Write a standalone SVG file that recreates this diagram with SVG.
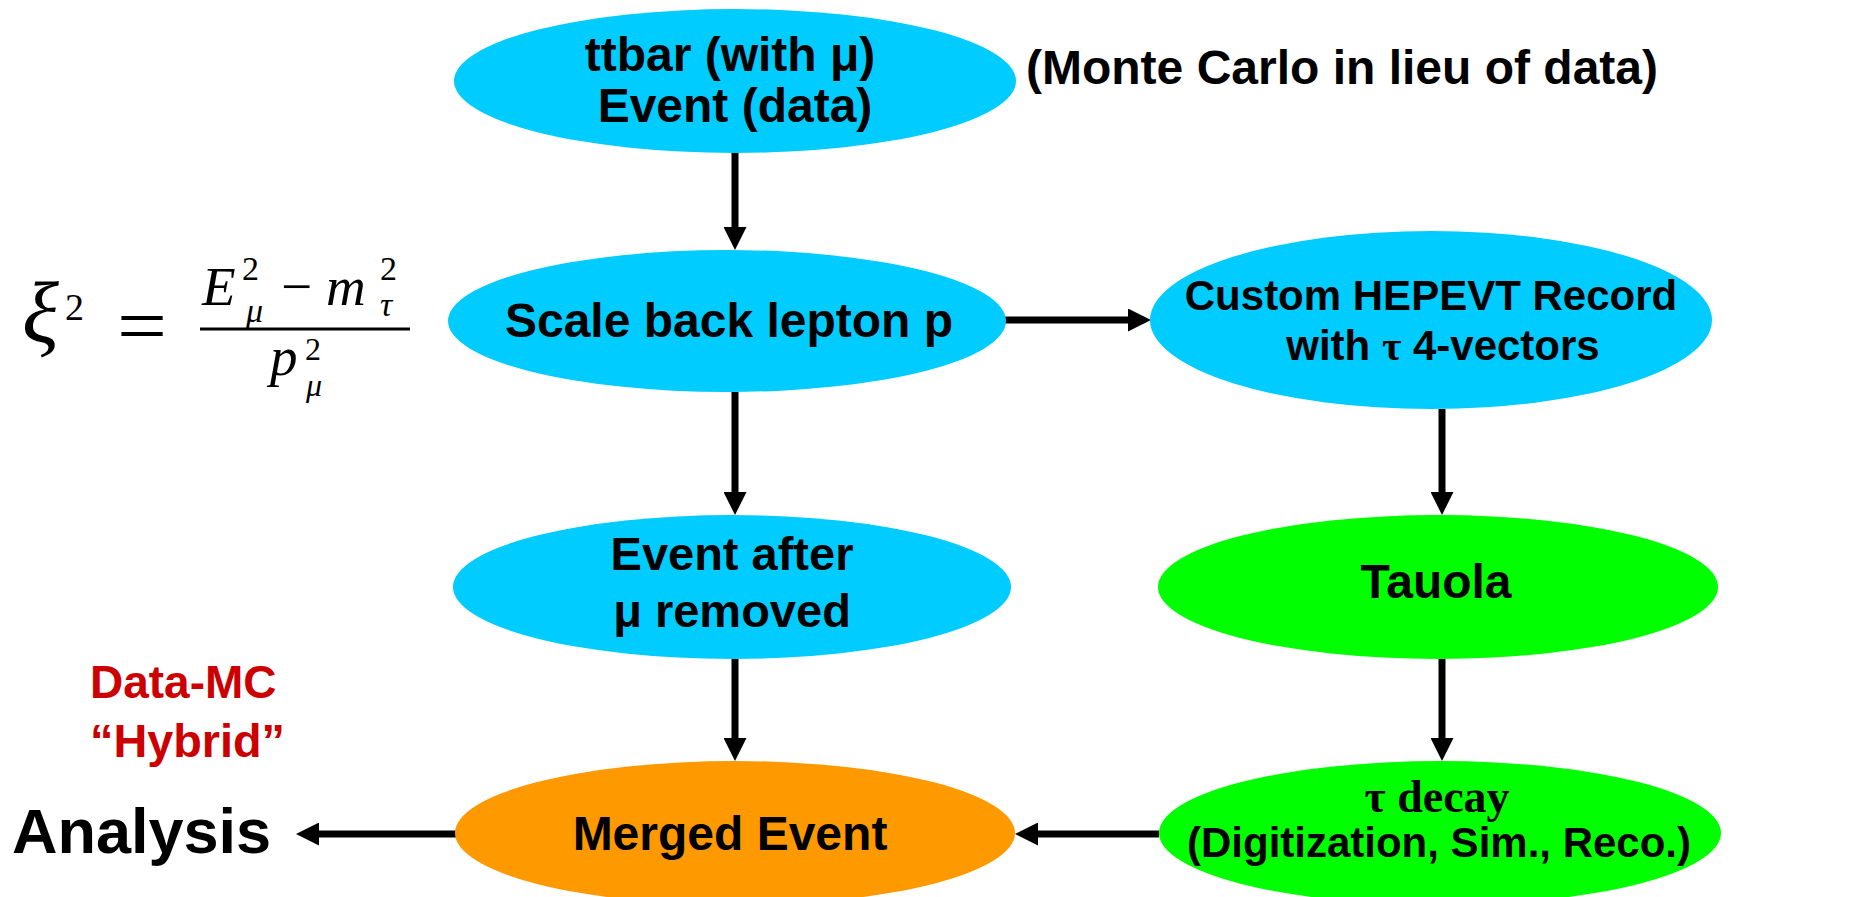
<svg xmlns="http://www.w3.org/2000/svg" width="1858" height="897" viewBox="0 0 1858 897">
<defs>
<style>
.t{font-family:"Liberation Sans",Arial,sans-serif;font-weight:bold;fill:#000;text-anchor:middle}
.m{font-family:"Liberation Serif","Times New Roman",serif;fill:#000}
.i{font-style:italic}
.cy{fill:#00ccff}
.gr{fill:#00ff00}
.or{fill:#ff9900}
.red{fill:#cc0000;text-anchor:start}
.c{stroke:#000;stroke-width:7;fill:none;marker-end:url(#ah)}
</style>
<marker id="ah" markerUnits="userSpaceOnUse" viewBox="0 0 23 23" markerWidth="23" markerHeight="23" refX="1" refY="11.5" orient="auto">
<path d="M0,0 L23,11.5 L0,23 z" fill="#000"/>
</marker>
</defs>
<rect width="1858" height="897" fill="#fff"/>

<g id="connectors">
<line class="c" x1="735" y1="152" x2="735" y2="228"/>
<line class="c" x1="735" y1="392" x2="735" y2="493"/>
<line class="c" x1="735" y1="659" x2="735" y2="739"/>
<line class="c" x1="1005" y1="320" x2="1129" y2="320"/>
<line class="c" x1="1442" y1="409" x2="1442" y2="493"/>
<line class="c" x1="1442" y1="659" x2="1442" y2="739"/>
<line class="c" x1="1159" y1="834" x2="1037" y2="834"/>
<line class="c" x1="456" y1="834" x2="318" y2="834"/>
</g>

<g id="n-ttbar">
<ellipse class="cy" cx="735" cy="81" rx="281" ry="72"/>
<text class="t" x="730" y="71" font-size="48">ttbar (with μ)</text>
<text class="t" x="735" y="122" font-size="48">Event (data)</text>
</g>

<g id="n-note">
<text class="t" x="1342" y="84" font-size="48">(Monte Carlo in lieu of data)</text>
</g>

<g id="n-scale">
<ellipse class="cy" cx="727" cy="321" rx="279" ry="71"/>
<text class="t" x="729" y="337" font-size="48">Scale back lepton p</text>
</g>

<g id="n-custom">
<ellipse class="cy" cx="1431" cy="320" rx="281" ry="89"/>
<text class="t" x="1431" y="310" font-size="42">Custom HEPEVT Record</text>
<text class="t" x="1443" y="360" font-size="42">with <tspan font-family="Liberation Serif, serif">τ</tspan> 4-vectors</text>
</g>

<g id="n-after">
<ellipse class="cy" cx="732" cy="587" rx="279" ry="72"/>
<text class="t" x="732" y="570" font-size="47">Event after</text>
<text class="t" x="732" y="627" font-size="47">μ removed</text>
</g>

<g id="n-tauola">
<ellipse class="gr" cx="1438" cy="587" rx="280" ry="72"/>
<text class="t" x="1436" y="598" font-size="48">Tauola</text>
</g>

<g id="n-decay">
<ellipse class="gr" cx="1440" cy="833" rx="281" ry="72"/>
<text x="1437" y="812" font-size="46" font-family="Liberation Serif, serif" font-weight="bold" text-anchor="middle">τ decay</text>
<text class="t" x="1439" y="857" font-size="42">(Digitization, Sim., Reco.)</text>
</g>

<g id="n-merged">
<ellipse class="or" cx="735" cy="833" rx="280" ry="72"/>
<text class="t" x="730" y="850" font-size="48">Merged Event</text>
</g>

<g id="n-analysis">
<text class="t" x="12" y="853" font-size="63" style="text-anchor:start">Analysis</text>
</g>

<g id="n-hybrid">
<text class="t red" x="90" y="698" font-size="46">Data-MC</text>
<text class="t red" x="90" y="757" font-size="46" textLength="195" lengthAdjust="spacingAndGlyphs">“Hybrid”</text>
</g>

<g id="n-formula">
<text class="m i" x="22" y="342" font-size="86">ξ</text>
<text class="m" x="65" y="320" font-size="38">2</text>
<text class="m" x="117" y="353" font-size="80" textLength="50" lengthAdjust="spacingAndGlyphs">=</text>
<rect x="200" y="327.5" width="210" height="3" fill="#000"/>
<text class="m i" x="202" y="305" font-size="55">E</text>
<text class="m" x="242" y="280" font-size="34">2</text>
<text class="m i" x="246" y="322" font-size="34">μ</text>
<text class="m" x="281" y="305" font-size="55">−</text>
<text class="m i" x="326" y="305" font-size="55">m</text>
<text class="m" x="380" y="280" font-size="34">2</text>
<text class="m i" x="380" y="316" font-size="34">τ</text>
<text class="m i" x="270" y="375" font-size="55">p</text>
<text class="m" x="305" y="360" font-size="32">2</text>
<text class="m i" x="306" y="396" font-size="32">μ</text>
</g>
</svg>
